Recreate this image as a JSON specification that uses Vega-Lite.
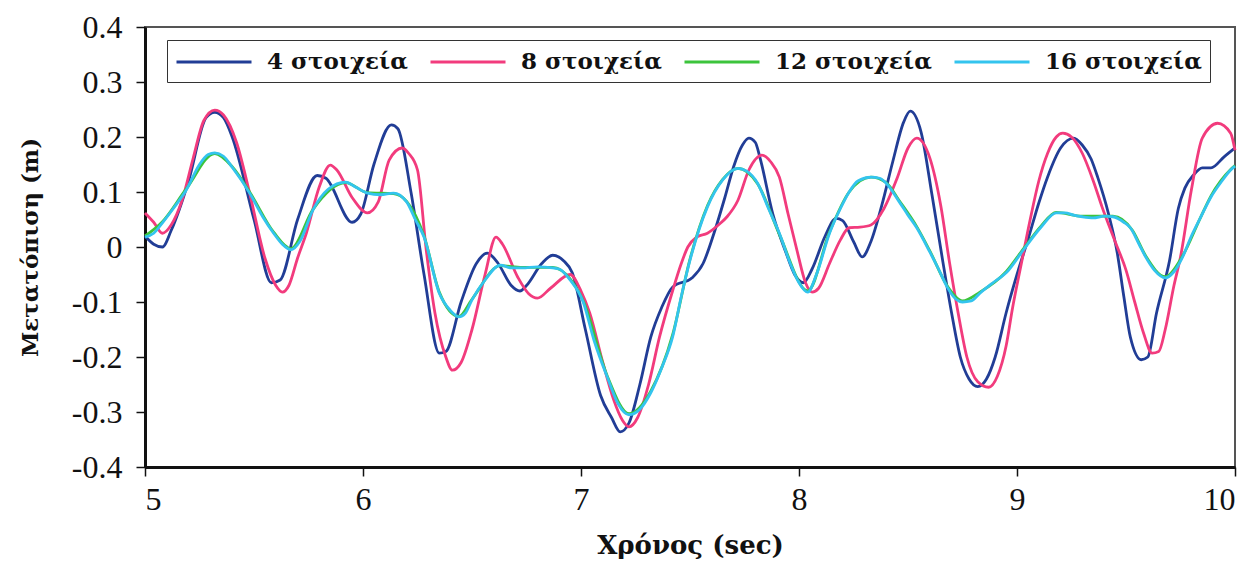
{
  "$schema": "https://vega.github.io/schema/vega-lite/v6.json",
  "width": 1090,
  "height": 440,
  "autosize": {"type": "none"},
  "padding": {"left": 145, "top": 27, "right": 20, "bottom": 97},
  "background": "white",
  "config": {
    "view": {"stroke": "#555", "strokeWidth": 2},
    "font": "Liberation Serif"
  },
  "datasets": {
    "s4": [
      [5.00,0.020],[5.04,0.005],[5.08,0.000],[5.12,0.030],[5.20,0.120],[5.28,0.235],[5.32,0.245],[5.36,0.235],[5.40,0.200],[5.50,0.050],[5.58,-0.065],[5.62,-0.060],[5.70,0.050],[5.79,0.130],[5.83,0.125],[5.95,0.045],[5.99,0.060],[6.05,0.150],[6.13,0.222],[6.16,0.215],[6.22,0.100],[6.28,-0.050],[6.35,-0.193],[6.38,-0.190],[6.45,-0.100],[6.52,-0.030],[6.57,-0.011],[6.62,-0.030],[6.68,-0.070],[6.72,-0.080],[6.75,-0.070],[6.82,-0.030],[6.87,-0.015],[6.92,-0.025],[6.96,-0.047],[7.02,-0.150],[7.09,-0.270],[7.14,-0.310],[7.18,-0.336],[7.22,-0.320],[7.27,-0.250],[7.32,-0.164],[7.37,-0.110],[7.42,-0.073],[7.51,-0.056],[7.56,-0.030],[7.61,0.025],[7.66,0.090],[7.70,0.146],[7.74,0.185],[7.77,0.198],[7.80,0.190],[7.82,0.164],[7.88,0.060],[7.94,-0.010],[7.98,-0.050],[8.02,-0.065],[8.06,-0.040],[8.12,0.020],[8.17,0.052],[8.20,0.048],[8.25,0.010],[8.29,-0.018],[8.33,0.010],[8.38,0.076],[8.43,0.155],[8.48,0.227],[8.51,0.247],[8.56,0.209],[8.61,0.095],[8.66,-0.027],[8.70,-0.120],[8.74,-0.200],[8.78,-0.240],[8.82,-0.254],[8.86,-0.240],[8.90,-0.200],[8.95,-0.120],[9.00,-0.050],[9.05,0.013],[9.10,0.080],[9.14,0.127],[9.20,0.180],[9.26,0.198],[9.30,0.185],[9.34,0.160],[9.37,0.127],[9.42,0.060],[9.46,-0.011],[9.49,-0.090],[9.52,-0.164],[9.57,-0.205],[9.60,-0.200],[9.64,-0.120],[9.70,-0.024],[9.74,0.070],[9.77,0.107],[9.81,0.131],[9.85,0.144],[9.89,0.144],[9.95,0.164],[10.00,0.180]
    ],
    "s8": [
      [5.00,0.062],[5.04,0.045],[5.08,0.025],[5.12,0.040],[5.17,0.085],[5.22,0.160],[5.27,0.230],[5.32,0.249],[5.36,0.240],[5.42,0.190],[5.48,0.098],[5.55,-0.020],[5.60,-0.070],[5.63,-0.082],[5.66,-0.070],[5.70,-0.020],[5.74,0.025],[5.80,0.110],[5.85,0.149],[5.88,0.140],[5.95,0.090],[6.02,0.062],[6.07,0.082],[6.12,0.158],[6.18,0.180],[6.21,0.170],[6.25,0.140],[6.29,-0.005],[6.33,-0.120],[6.38,-0.200],[6.41,-0.224],[6.45,-0.210],[6.50,-0.150],[6.56,-0.050],[6.61,0.018],[6.64,0.005],[6.71,-0.055],[6.76,-0.085],[6.80,-0.093],[6.86,-0.075],[6.95,-0.050],[7.00,-0.080],[7.04,-0.120],[7.10,-0.210],[7.15,-0.278],[7.19,-0.315],[7.22,-0.327],[7.26,-0.310],[7.31,-0.250],[7.36,-0.164],[7.42,-0.080],[7.46,-0.030],[7.49,0.000],[7.53,0.018],[7.58,0.025],[7.63,0.040],[7.67,0.055],[7.72,0.085],[7.77,0.140],[7.83,0.167],[7.87,0.155],[7.91,0.127],[7.95,0.060],[7.99,-0.005],[8.03,-0.065],[8.06,-0.082],[8.09,-0.075],[8.14,-0.030],[8.19,0.013],[8.23,0.035],[8.28,0.036],[8.33,0.040],[8.39,0.070],[8.45,0.125],[8.50,0.180],[8.54,0.198],[8.60,0.162],[8.65,0.076],[8.69,-0.027],[8.73,-0.120],[8.77,-0.200],[8.82,-0.245],[8.87,-0.255],[8.91,-0.235],[8.95,-0.180],[8.98,-0.110],[9.02,-0.030],[9.06,0.049],[9.10,0.120],[9.14,0.170],[9.18,0.200],[9.21,0.207],[9.25,0.200],[9.30,0.170],[9.35,0.120],[9.39,0.073],[9.45,0.010],[9.50,-0.042],[9.54,-0.100],[9.58,-0.156],[9.62,-0.193],[9.65,-0.190],[9.68,-0.150],[9.72,-0.070],[9.75,-0.018],[9.80,0.104],[9.85,0.198],[9.92,0.225],[9.98,0.207],[10.00,0.176]
    ],
    "s12": [
      [5.00,0.020],[5.08,0.046],[5.19,0.106],[5.32,0.170],[5.40,0.146],[5.48,0.100],[5.59,0.027],[5.67,-0.003],[5.77,0.068],[5.92,0.117],[6.02,0.099],[6.14,0.097],[6.20,0.083],[6.28,0.020],[6.35,-0.082],[6.44,-0.126],[6.50,-0.095],[6.63,-0.034],[6.73,-0.037],[6.87,-0.037],[6.95,-0.058],[7.01,-0.098],[7.12,-0.234],[7.22,-0.303],[7.32,-0.262],[7.42,-0.160],[7.50,-0.022],[7.58,0.075],[7.65,0.123],[7.72,0.143],[7.81,0.115],[7.91,0.023],[8.04,-0.080],[8.14,0.027],[8.23,0.100],[8.33,0.127],[8.40,0.117],[8.46,0.084],[8.54,0.037],[8.60,-0.007],[8.68,-0.071],[8.75,-0.098],[8.83,-0.082],[8.95,-0.045],[9.03,-0.003],[9.11,0.038],[9.18,0.063],[9.30,0.056],[9.44,0.056],[9.53,0.030],[9.59,-0.016],[9.68,-0.054],[9.76,-0.016],[9.84,0.052],[9.89,0.093],[9.98,0.141],[10.00,0.148]
    ],
    "s16": [
      [5.00,0.018],[5.04,0.025],[5.08,0.044],[5.13,0.070],[5.19,0.104],[5.25,0.150],[5.29,0.168],[5.32,0.171],[5.36,0.165],[5.40,0.145],[5.48,0.098],[5.54,0.055],[5.59,0.025],[5.63,0.005],[5.67,-0.005],[5.71,0.010],[5.77,0.067],[5.84,0.105],[5.92,0.118],[5.97,0.108],[6.02,0.098],[6.08,0.095],[6.14,0.098],[6.20,0.082],[6.24,0.050],[6.28,0.018],[6.35,-0.084],[6.40,-0.115],[6.44,-0.127],[6.47,-0.120],[6.50,-0.096],[6.56,-0.060],[6.63,-0.033],[6.68,-0.038],[6.73,-0.038],[6.80,-0.036],[6.87,-0.038],[6.90,-0.040],[6.95,-0.060],[7.01,-0.100],[7.06,-0.170],[7.12,-0.236],[7.17,-0.285],[7.22,-0.305],[7.27,-0.295],[7.32,-0.265],[7.37,-0.220],[7.42,-0.164],[7.46,-0.090],[7.50,-0.024],[7.54,0.030],[7.58,0.073],[7.65,0.122],[7.72,0.143],[7.76,0.138],[7.81,0.116],[7.86,0.070],[7.91,0.025],[7.96,-0.030],[8.00,-0.065],[8.04,-0.082],[8.08,-0.050],[8.14,0.025],[8.19,0.070],[8.23,0.100],[8.27,0.120],[8.33,0.127],[8.37,0.125],[8.40,0.116],[8.46,0.082],[8.50,0.058],[8.54,0.035],[8.60,-0.009],[8.64,-0.040],[8.68,-0.073],[8.72,-0.095],[8.75,-0.100],[8.79,-0.098],[8.83,-0.084],[8.89,-0.065],[8.95,-0.047],[9.03,-0.005],[9.11,0.036],[9.18,0.062],[9.22,0.062],[9.26,0.058],[9.30,0.055],[9.35,0.053],[9.40,0.056],[9.44,0.055],[9.49,0.045],[9.52,0.035],[9.56,0.005],[9.59,-0.018],[9.63,-0.042],[9.68,-0.056],[9.72,-0.045],[9.76,-0.018],[9.80,0.020],[9.84,0.052],[9.89,0.091],[9.94,0.120],[9.98,0.140],[10.00,0.147]
    ]
  },
  "layer": [
    {"data": {"name": "s4"}, "transform": [{"calculate": "datum[0]", "as": "t"}, {"calculate": "datum[1]", "as": "v"}, {"calculate": "'4 στοιχεία'", "as": "s"}],
     "mark": {"type": "line", "strokeWidth": 2.8, "interpolate": "monotone"},
     "encoding": {
       "x": {"field": "t", "type": "quantitative", "scale": {"domain": [5, 10], "nice": false},
             "axis": {"values": [5,6,7,8,9,10], "format": "d", "title": "Χρόνος (sec)", "grid": false, "domainColor": "#111", "domainWidth": 3, "tickColor": "#111", "tickWidth": 1.5, "tickSize": 9, "labelFont": "Liberation Serif", "labelFontSize": 32, "labelColor": "#111", "labelPadding": 8, "titleFont": "DejaVu Serif", "titleFontWeight": "bold", "titleFontSize": 26, "titleColor": "#111", "titlePadding": 17}},
       "y": {"field": "v", "type": "quantitative", "scale": {"domain": [-0.4, 0.4], "nice": false},
             "axis": {"values": [-0.4,-0.3,-0.2,-0.1,0,0.1,0.2,0.3,0.4], "labelExpr": "replace(format(datum.value, '~g'), '−', '-')", "title": "Μετατόπιση (m)", "grid": false, "domainColor": "#111", "domainWidth": 3, "tickColor": "#111", "tickWidth": 1.5, "tickSize": 9, "labelFont": "Liberation Serif", "labelFontSize": 32, "labelColor": "#111", "labelPadding": 14, "titleFont": "DejaVu Serif", "titleFontWeight": "bold", "titleFontSize": 23, "titleColor": "#111", "titlePadding": 29}},
       "color": {"field": "s", "type": "nominal",
         "scale": {"domain": ["4 στοιχεία", "8 στοιχεία", "12 στοιχεία", "16 στοιχεία"], "range": ["#213d96", "#f23b7d", "#3cc43c", "#33c4ee"]},
         "legend": {"orient": "none", "legendX": 22, "legendY": 13, "direction": "horizontal", "columns": 4, "title": null, "strokeColor": "#333", "fillColor": "white", "padding": 8, "symbolType": "M-1,0H5", "symbolSize": 625, "symbolStrokeWidth": 3, "labelFont": "DejaVu Serif", "labelFontWeight": "bold", "labelFontSize": 23, "labelColor": "#111", "labelOffset": 64, "columnPadding": 16, "labelLimit": 300}}
     }},
    {"data": {"name": "s8"}, "transform": [{"calculate": "datum[0]", "as": "t"}, {"calculate": "datum[1]", "as": "v"}, {"calculate": "'8 στοιχεία'", "as": "s"}],
     "mark": {"type": "line", "strokeWidth": 2.8, "interpolate": "monotone"},
     "encoding": {"x": {"field": "t", "type": "quantitative"}, "y": {"field": "v", "type": "quantitative"}, "color": {"field": "s", "type": "nominal"}}},
    {"data": {"name": "s12"}, "transform": [{"calculate": "datum[0]", "as": "t"}, {"calculate": "datum[1]", "as": "v"}, {"calculate": "'12 στοιχεία'", "as": "s"}],
     "mark": {"type": "line", "strokeWidth": 2.8, "interpolate": "monotone"},
     "encoding": {"x": {"field": "t", "type": "quantitative"}, "y": {"field": "v", "type": "quantitative"}, "color": {"field": "s", "type": "nominal"}}},
    {"data": {"name": "s16"}, "transform": [{"calculate": "datum[0]", "as": "t"}, {"calculate": "datum[1]", "as": "v"}, {"calculate": "'16 στοιχεία'", "as": "s"}],
     "mark": {"type": "line", "strokeWidth": 2.8, "interpolate": "monotone"},
     "encoding": {"x": {"field": "t", "type": "quantitative"}, "y": {"field": "v", "type": "quantitative"}, "color": {"field": "s", "type": "nominal"}}}
  ]
}
